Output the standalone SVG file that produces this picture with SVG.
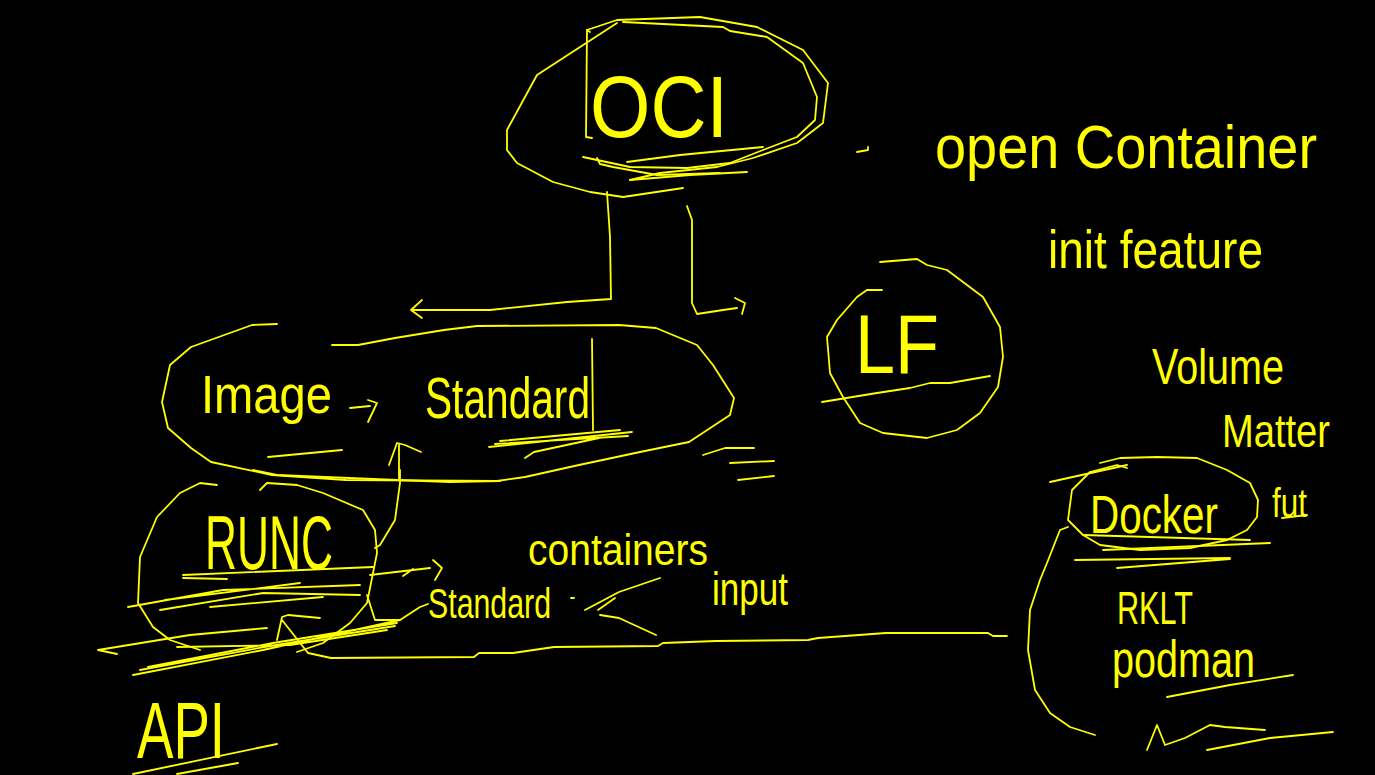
<svg xmlns="http://www.w3.org/2000/svg" width="1375" height="775" viewBox="0 0 1375 775">
<style>
.s{fill:none;stroke:#ffff00;stroke-width:1.8;stroke-linecap:round;stroke-linejoin:round}
.t{fill:#ffff00;font-family:"Liberation Sans","DejaVu Sans",sans-serif;font-weight:normal}
</style>
<rect width="1375" height="775" fill="#000"/>
<g id="oci">
<path class="s" d="M587,30 L617,20 L700,17 L757,27 L803,50 L828,83 L823,123 L797,143 L753,158 L717,167 L660,173 L630,180"/>
<path class="s" d="M617,23 L537,75 L507,130 L507,150 L517,163 L553,182 L590,192 L623,197 L683,188"/>
<path class="s" d="M623,22 L723,27 L730,31 L767,37 L803,63 L817,97 L815,120 L797,137 L763,150 L730,163 L687,168 L630,167 L583,157"/>
<path class="s" d="M590,32 L587,30 L586,137 L592,138"/>
<path class="s" d="M627,162 L680,155 L763,147"/>
<path class="s" d="M630,180 L690,175 L747,172"/>
<path class="s" d="M597,158 L600,164 L613,167 L657,175 L720,173"/>
<text class="t" x="590" y="137" font-size="88" textLength="138" lengthAdjust="spacingAndGlyphs">OCI</text>
</g>
<g id="open-container">
<path class="s" d="M857,152 L868,150 L868,147"/>
<text class="t" x="935" y="168" font-size="62" textLength="382" lengthAdjust="spacingAndGlyphs">open Container</text>
<text class="t" x="1048" y="268" font-size="54" textLength="215" lengthAdjust="spacingAndGlyphs">init feature</text>
</g>
<g id="notes">
<text class="t" x="1152" y="384" font-size="50" textLength="132" lengthAdjust="spacingAndGlyphs">Volume</text>
<text class="t" x="1222" y="447" font-size="46" textLength="108" lengthAdjust="spacingAndGlyphs">Matter</text>
<text class="t" x="1272" y="517" font-size="40" textLength="35" lengthAdjust="spacingAndGlyphs">fut</text>
<path class="s" d="M1282,518 L1307,515"/>
</g>
<g id="image-standard">
<path class="s" d="M277,324 L252,325 L191,347 L170,365 L162,402 L168,428 L191,448 L211,462 L272,475 L346,480 L497,481 L525,477 L579,465 L640,452 L689,442 L730,415 L734,398 L713,365 L697,345 L656,328 L619,325 L477,326 L444,330 L395,338 L358,345 L332,345"/>
<text class="t" x="201" y="413" font-size="54" textLength="131" lengthAdjust="spacingAndGlyphs">Image</text>
<path class="s" d="M350,408 L370,406 M368,400 L377,403 L368,422"/>
<text class="t" x="425" y="418" font-size="58" textLength="165" lengthAdjust="spacingAndGlyphs">Standard</text>
<path class="s" d="M592,339 L593,430"/>
<path class="s" d="M268,457 L342,450"/>
<path class="s" d="M489,447 L632,432 M495,444 L628,436 M500,441 L620,430 M525,458 L534,452 L599,438"/>
<path class="s" d="M703,455 L725,448 L754,448 M730,463 L774,461 M738,480 L774,476"/>
</g>
<g id="lf">
<path class="s" d="M880,262 L917,259 L927,265 L947,270 L983,297 L1000,327 L1003,357 L998,387 L980,413 L957,430 L927,438 L883,433 L860,423 L843,397 L830,373 L827,337 L837,320 L857,297 L867,290 L882,290"/>
<text class="t" x="855" y="373" font-size="84" textLength="84" lengthAdjust="spacingAndGlyphs">LF</text>
<path class="s" d="M822,402 L877,393 L910,388 L930,383 L950,383 L990,376"/>
</g>
<g id="docker">
<path class="s" d="M1127,468 L1117,465 L1090,472 L1072,490 L1068,520 L1083,535 L1100,545 L1140,550 L1190,548 L1227,540 L1247,530 L1257,517 L1258,500 L1250,483 L1227,470 L1197,458 L1157,457 L1120,458 L1100,463"/>
<path class="s" d="M1050,482 L1127,465"/>
<text class="t" x="1090" y="533" font-size="54" textLength="128" lengthAdjust="spacingAndGlyphs">Docker</text>
<path class="s" d="M1103,550 L1270,543 M1083,535 L1250,540 M1075,560 L1230,558 M1117,568 L1230,559"/>
<path class="s" d="M1068,527 L1060,530 L1047,563 L1040,580 L1030,610 L1028,650 L1035,690 L1050,713 L1070,727 L1095,735"/>
<text class="t" x="1117" y="624" font-size="46" textLength="76" lengthAdjust="spacingAndGlyphs">RKLT</text>
<text class="t" x="1112" y="677" font-size="52" textLength="143" lengthAdjust="spacingAndGlyphs">podman</text>
<path class="s" d="M1167,697 L1230,685 L1293,675"/>
<path class="s" d="M1147,750 L1157,725 L1165,745 L1185,738 L1210,725 L1225,727 L1265,730 M1207,750 L1270,738 L1333,732"/>
</g>
<g id="runc">
<path class="s" d="M217,485 L200,483 L180,493 L157,517 L140,557 L138,603 L153,627 L170,640 L200,650"/>
<path class="s" d="M260,490 L267,483 L297,485 L323,493 L363,510 L375,530 L377,553 L373,573 L367,603 L350,623 L323,643 L297,652"/>
<text class="t" x="205" y="569" font-size="76" textLength="128" lengthAdjust="spacingAndGlyphs">RUNC</text>
<path class="s" d="M183,575 L373,567 M183,578 L227,579"/>
<path class="s" d="M128,607 L223,590 L360,585 M160,610 L263,593 L360,595 M210,607 L323,597 M165,600 L300,583"/>
<path class="s" d="M98,650 L190,635 L267,628 M98,650 L117,654"/>
<path class="s" d="M133,675 L263,650 L400,620 M148,667 L273,643 L397,623 M177,647 L290,645 L387,630 M140,670 L270,646 L395,626"/>
</g>
<g id="api">
<text class="t" x="137" y="758" font-size="80" textLength="88" lengthAdjust="spacingAndGlyphs">API</text>
<path class="s" d="M133,774 L277,744 M177,774 L238,763"/>
</g>
<g id="labels">
<text class="t" x="528" y="565" font-size="44" textLength="180" lengthAdjust="spacingAndGlyphs">containers</text>
<text class="t" x="428" y="618" font-size="42" textLength="123" lengthAdjust="spacingAndGlyphs">Standard</text>
<path class="s" d="M571,598 L574,598"/>
<text class="t" x="712" y="605" font-size="46" textLength="76" lengthAdjust="spacingAndGlyphs">input</text>
</g>
<g id="connectors">
<path class="s" d="M607,192 L610,237 L611,299 L567,302 L490,310 L412,310"/>
<path class="s" d="M422,300 L411,310 L422,318"/>
<path class="s" d="M687,206 L692,220 L692,303 L697,314 L723,310 L737,308"/>
<path class="s" d="M735,298 L745,303 L742,314"/>
<path class="s" d="M399,480 L399,445 M389,465 L397,443 L405,445 L421,452"/>
<path class="s" d="M253,470 L277,475 L397,480 L450,482 L500,481"/>
<path class="s" d="M400,470 L400,483 L395,520 L380,545 L375,548"/>
<path class="s" d="M370,575 L430,568 M433,560 L442,568 L435,580 M403,576 L413,569"/>
<path class="s" d="M367,595 L375,620 L400,620 L420,607 L428,604"/>
<path class="s" d="M277,640 L282,617 L288,615 L320,618 M282,620 L308,653 L331,658 L474,657 L479,653 L513,653 L554,647 L658,646 L663,643 L716,641 L808,640 L818,638 L886,633 L988,633 L993,636 L1007,636"/>
<path class="s" d="M660,578 L619,592 L585,610 M600,615 L619,618 L656,635 M598,610 L615,598"/>
</g>
</svg>
